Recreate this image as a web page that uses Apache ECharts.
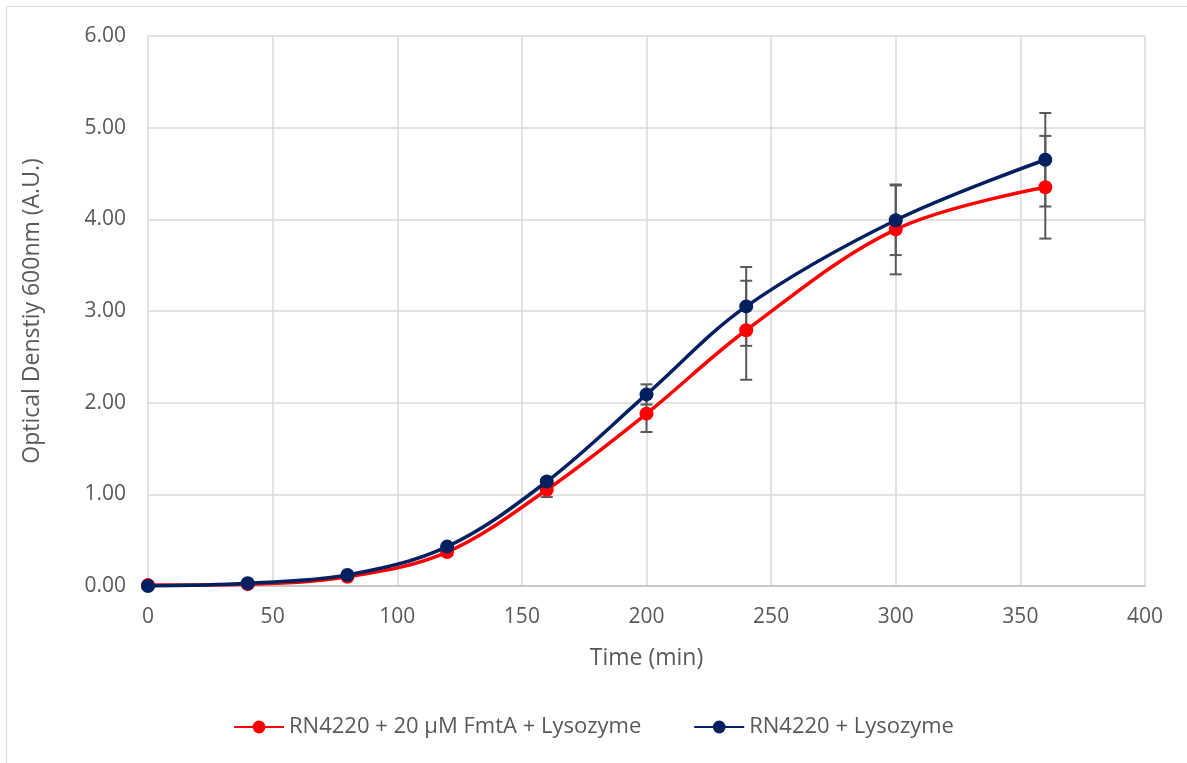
<!DOCTYPE html>
<html>
<head>
<meta charset="utf-8">
<script src="https://cdn.jsdelivr.net/npm/echarts@6/dist/echarts.min.js"></script>
<style>
  html, body { margin: 0; padding: 0; background: #fff; }
  #frame { position: absolute; left: 6px; top: 6px; width: 1185px; height: 765px; border: 1px solid #d9d9d9; box-sizing: border-box; }
  #main { position: absolute; left: 0; top: 0; width: 1187px; height: 763px; }
</style>
</head>
<body>
<div id="frame"></div>
<div id="main"></div>
<script>
// time points (min)
const times = [0, 40, 80, 120, 160, 200, 240, 300, 360];
// RN4220 + 20 µM FmtA + Lysozyme
const fmtaOD = [0.01, 0.02, 0.10, 0.37, 1.05, 1.88, 2.79, 3.89, 4.35];
const fmtaErr = [0, 0, 0, 0, 0.08, 0.20, 0.54, 0.49, 0.56];
// RN4220 + Lysozyme
const ctrlOD = [0.00, 0.03, 0.12, 0.43, 1.14, 2.09, 3.05, 3.99, 4.65];
const ctrlErr = [0, 0, 0, 0, 0.03, 0.11, 0.43, 0.38, 0.51];

const seriesNames = ['RN4220 + 20 µM FmtA + Lysozyme', 'RN4220 + Lysozyme'];
const colors = ['#ff0000', '#002060'];

const fontFamily = '"Open Sans", Roboto, sans-serif';
const textColor = '#595959';

function pairs(ys) {
  return times.map((t, i) => [t, ys[i]]);
}
function errData(ys, es) {
  return times.map((t, i) => [t, ys[i] - es[i], ys[i] + es[i]]).filter((d, i) => es[i] > 0);
}

// draws one error bar with caps
function renderErr(params, api) {
  const lo = api.coord([api.value(0), api.value(1)]);
  const hi = api.coord([api.value(0), api.value(2)]);
  const half = 6;
  const style = { stroke: '#595959', lineWidth: 2 };
  return {
    type: 'group',
    children: [
      { type: 'line', shape: { x1: lo[0], y1: lo[1], x2: hi[0], y2: hi[1] }, style: style },
      { type: 'line', shape: { x1: lo[0] - half, y1: lo[1], x2: lo[0] + half, y2: lo[1] }, style: style },
      { type: 'line', shape: { x1: hi[0] - half, y1: hi[1], x2: hi[0] + half, y2: hi[1] }, style: style }
    ]
  };
}

let myChart = echarts.init(document.getElementById('main'));
let option = {
  animation: false,
  textStyle: { fontFamily: fontFamily, color: textColor },
  grid: { left: 148, right: 42, top: 36, bottom: 177 },
  legend: {
    bottom: 20,
    left: 'center',
    data: seriesNames,
    itemWidth: 50,
    itemHeight: 16,
    itemGap: 52,
    textStyle: { fontSize: 22, color: textColor, fontFamily: fontFamily }
  },
  xAxis: {
    type: 'value',
    min: 0,
    max: 400,
    interval: 50,
    name: 'Time (min)',
    nameLocation: 'middle',
    nameGap: 61,
    nameTextStyle: { fontSize: 23, color: textColor },
    axisLine: { show: true, lineStyle: { color: '#bfbfbf', width: 1.5 } },
    axisTick: { show: false },
    axisLabel: { fontSize: 21, color: textColor, margin: 21 },
    splitLine: { show: true, lineStyle: { color: '#d9d9d9', width: 1.5 } }
  },
  yAxis: {
    type: 'value',
    min: 0,
    max: 6,
    interval: 1,
    name: 'Optical Denstiy 600nm (A.U.)',
    nameLocation: 'middle',
    nameGap: 104,
    nameTextStyle: { fontSize: 23, color: textColor },
    axisLine: { show: false },
    axisTick: { show: false },
    axisLabel: { fontSize: 21, color: textColor, margin: 22, formatter: v => v.toFixed(2) },
    splitLine: { show: true, lineStyle: { color: '#d9d9d9', width: 1.5 } }
  },
  series: [
    {
      type: 'custom',
      renderItem: renderErr,
      data: errData(fmtaOD, fmtaErr),
      encode: { x: 0, y: [1, 2] },
      z: 1,
      silent: true
    },
    {
      type: 'custom',
      renderItem: renderErr,
      data: errData(ctrlOD, ctrlErr),
      encode: { x: 0, y: [1, 2] },
      z: 1,
      silent: true
    },
    {
      name: seriesNames[0],
      type: 'line',
      data: pairs(fmtaOD),
      smooth: 0.35,
      symbol: 'circle',
      symbolSize: 14,
      color: colors[0],
      lineStyle: { width: 3.5, color: colors[0] },
      itemStyle: { color: colors[0] },
      z: 2
    },
    {
      name: seriesNames[1],
      type: 'line',
      data: pairs(ctrlOD),
      smooth: 0.35,
      symbol: 'circle',
      symbolSize: 14,
      color: colors[1],
      lineStyle: { width: 3.5, color: colors[1] },
      itemStyle: { color: colors[1] },
      z: 3
    }
  ]
};
myChart.setOption(option);
</script>
</body>
</html>
